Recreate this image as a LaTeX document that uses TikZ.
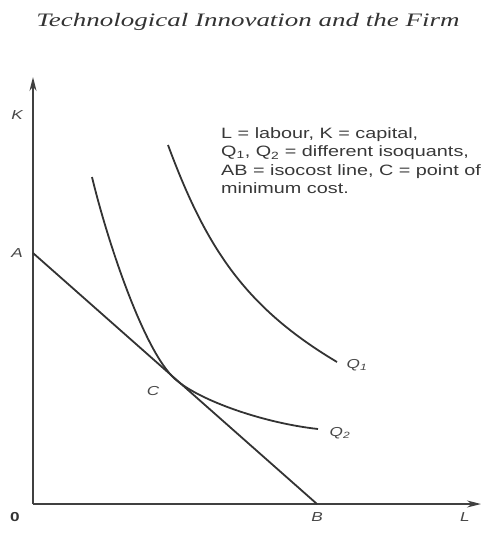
\documentclass[tikz,border=0pt]{standalone}
\usepackage{fontspec}
\setmainfont{Liberation Serif}
\setsansfont{Liberation Sans}
\newfontfamily\widesans[FakeStretch=1.32]{Liberation Sans}
\newfontfamily\widetitle[FakeStretch=1.42]{Liberation Serif}
\usetikzlibrary{arrows.meta}
\begin{document}
\begin{tikzpicture}[x=1pt,y=-1pt,
  curve/.style={line width=1.8pt,draw=black!80},
  axis/.style={line width=1.5pt,draw=black!75,-{Stealth[length=14pt,width=7pt]}},
  lbl/.style={font=\widesans\itshape\fontsize{13}{13}\selectfont,text=black!72,inner sep=0pt},
  note/.style={font=\widesans\fontsize{15}{18.6}\selectfont,text=black!78,align=left,inner sep=0pt,anchor=north west}]
\useasboundingbox (0,0) rectangle (488,536);
% title
\node[inner sep=0pt,text=black!80] (title) at (248,22)
  {\fontsize{19}{19}\selectfont\widetitle\itshape Technological Innovation and the Firm};
% axes
\coordinate (O) at (33,504);
\coordinate (Ktip) at (33,77);
\coordinate (Ltip) at (481,504);
\draw[axis] (O) -- (Ktip);
\draw[axis] (O) -- (Ltip);
% isocost line
\coordinate (A) at (33,253);
\coordinate (B) at (317,504);
\draw[curve] (A) -- (B);
% isoquant Q2 (tangent at C)
\coordinate (q2s) at (92,177);
\coordinate (C) at (175,379);
\coordinate (q2e) at (318,429);
\draw[curve] (q2s) .. controls (107.6,242) and (144.2,351.7) .. (C)
  .. controls (199.2,400.5) and (263.5,423) .. (q2e);
% isoquant Q1
\coordinate (q1s) at (168,145);
\coordinate (q1e) at (337,362);
\draw[curve] (q1s) .. controls (206.5,249) and (245.8,307.6) .. (q1e);
% labels
\node[lbl] (lK) at (17,115) {K};
\node[lbl] (lA) at (17,253) {A};
\node[lbl] (lC) at (153,391) {C};
\node[lbl] (lB) at (317,517) {B};
\node[lbl] (lL) at (465,517) {L};
\node[font=\widesans\bfseries\fontsize{13}{13}\selectfont,text=black!80,inner sep=0pt] (l0) at (15,517) {0};
\node[lbl] (lQ1) at (357,365) {Q\textsubscript{1}};
\node[lbl] (lQ2) at (340,433) {Q\textsubscript{2}};
% note
\node[note] (txt) at (221,127)
  {L = labour, K = capital,\\
   Q\textsubscript{1}, Q\textsubscript{2} = different isoquants,\\
   AB = isocost line, C = point of\\
   minimum cost.};
\end{tikzpicture}
\end{document}
